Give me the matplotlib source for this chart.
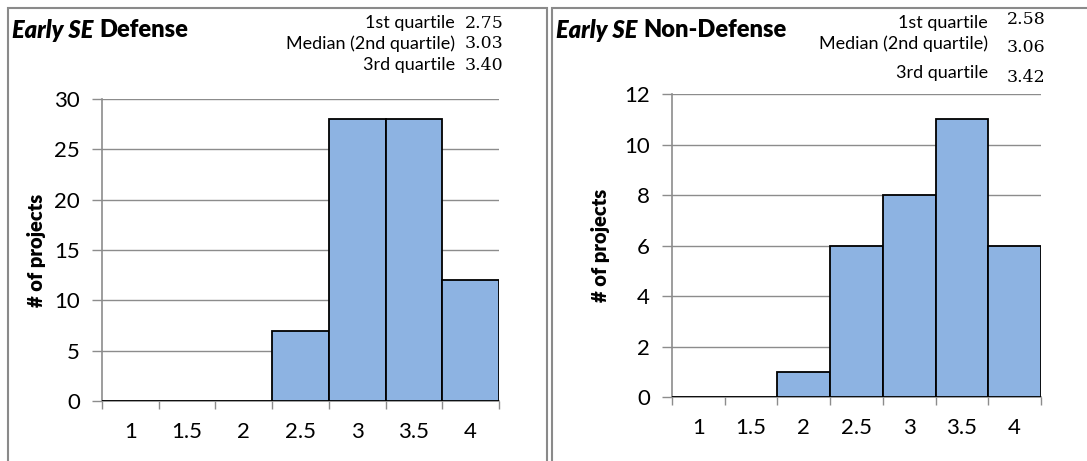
import matplotlib.pyplot as plt
import numpy as np
from matplotlib.patches import Rectangle

categories = ['1', '1.5', '2', '2.5', '3', '3.5', '4']
defense_counts = [0, 0, 0, 7, 28, 28, 12]
nondefense_counts = [0, 0, 1, 6, 8, 11, 6]
quartile_labels = ['1st quartile', 'Median (2nd quartile)', '3rd quartile']
defense_quartiles = ['2.75', '3.03', '3.40']
nondefense_quartiles = ['2.58', '3.06', '3.42']

W, H = 1087, 461
fig = plt.figure(figsize=(W / 100, H / 100), dpi=100)
plt.rcParams['font.family'] = ['Lato', 'DejaVu Sans']

bar_color = '#8DB3E2'
grid_color = '#8c8c8c'


def px(x, y):
    return x / W, 1 - y / H


def draw_hist(rect, counts, ymax, ystep):
    ax = fig.add_axes(rect)
    x = np.arange(len(counts))
    ax.bar(x, counts, width=1.0, color=bar_color, edgecolor='black',
           linewidth=1.3, zorder=3)
    ax.set_xlim(-0.5, len(counts) - 0.5)
    ax.set_ylim(0, ymax)
    ax.set_yticks(np.arange(0, ymax + 1, ystep))
    ax.yaxis.grid(True, color=grid_color, linewidth=1)
    ax.set_axisbelow(True)
    # tick marks on bin edges, labels at bin centres
    ax.set_xticks(np.arange(-0.5, len(counts), 1.0))
    ax.set_xticklabels([])
    ax.set_xticks(x, minor=True)
    ax.set_xticklabels(categories, minor=True, fontsize=16)
    ax.tick_params(axis='x', which='major', length=6, color=grid_color,
                   width=1)
    ax.tick_params(axis='x', which='minor', length=0, pad=15)
    ax.tick_params(axis='y', length=7, color=grid_color, width=1,
                   labelsize=16, pad=9)
    for s in ['top', 'right']:
        ax.spines[s].set_visible(False)
    for s in ['left', 'bottom']:
        ax.spines[s].set_color(grid_color)
        ax.spines[s].set_linewidth(1.2)
    return ax


draw_hist([102 / W, 60 / H, 397 / W, 302 / H], defense_counts, 30, 5)
draw_hist([672 / W, 64 / H, 369 / W, 303 / H], nondefense_counts, 12, 2)

# panel frames
for x0, x1 in [(8, 547), (552, 1100)]:
    fig.patches.append(Rectangle(px(x0, 480), (x1 - x0) / W, 472 / H,
                                 transform=fig.transFigure, fill=False,
                                 edgecolor='#8a8a8a', linewidth=1.5))

# titles
for x0, name in [(12, 'Defense'), (556, 'Non-Defense')]:
    t = fig.text(*px(x0, 30), 'Early SE', fontsize=17, fontweight='heavy',
                 fontstyle='italic', va='center', ha='left')
    fig.canvas.draw()
    bb = t.get_window_extent()
    fig.text(bb.x1 / W + 6 / W, px(0, 30)[1], name, fontsize=17,
             fontweight='heavy', va='center', ha='left')

# y labels
fig.text(*px(37, 250), '# of projects', rotation=90, fontsize=14.5,
         fontweight='heavy', ha='center', va='center')
fig.text(*px(600, 245), '# of projects', rotation=90, fontsize=14.5,
         fontweight='heavy', ha='center', va='center')

# quartile summaries
for lab, val, yl, yv in zip(quartile_labels, defense_quartiles,
                            [23, 44, 65], [23, 44, 65]):
    fig.text(*px(455, yl), lab, fontsize=13, ha='right', va='center')
    fig.text(*px(465, yv), val, fontsize=12.5, ha='left', va='center',
             family='DejaVu Serif')
for lab, val, yl, yv in zip(quartile_labels, nondefense_quartiles,
                            [23, 44, 73], [20, 47, 77]):
    fig.text(*px(988, yl), lab, fontsize=13, ha='right', va='center')
    fig.text(*px(1007, yv), val, fontsize=12.5, ha='left', va='center',
             family='DejaVu Serif')

fig.savefig('out.png', dpi=100)
